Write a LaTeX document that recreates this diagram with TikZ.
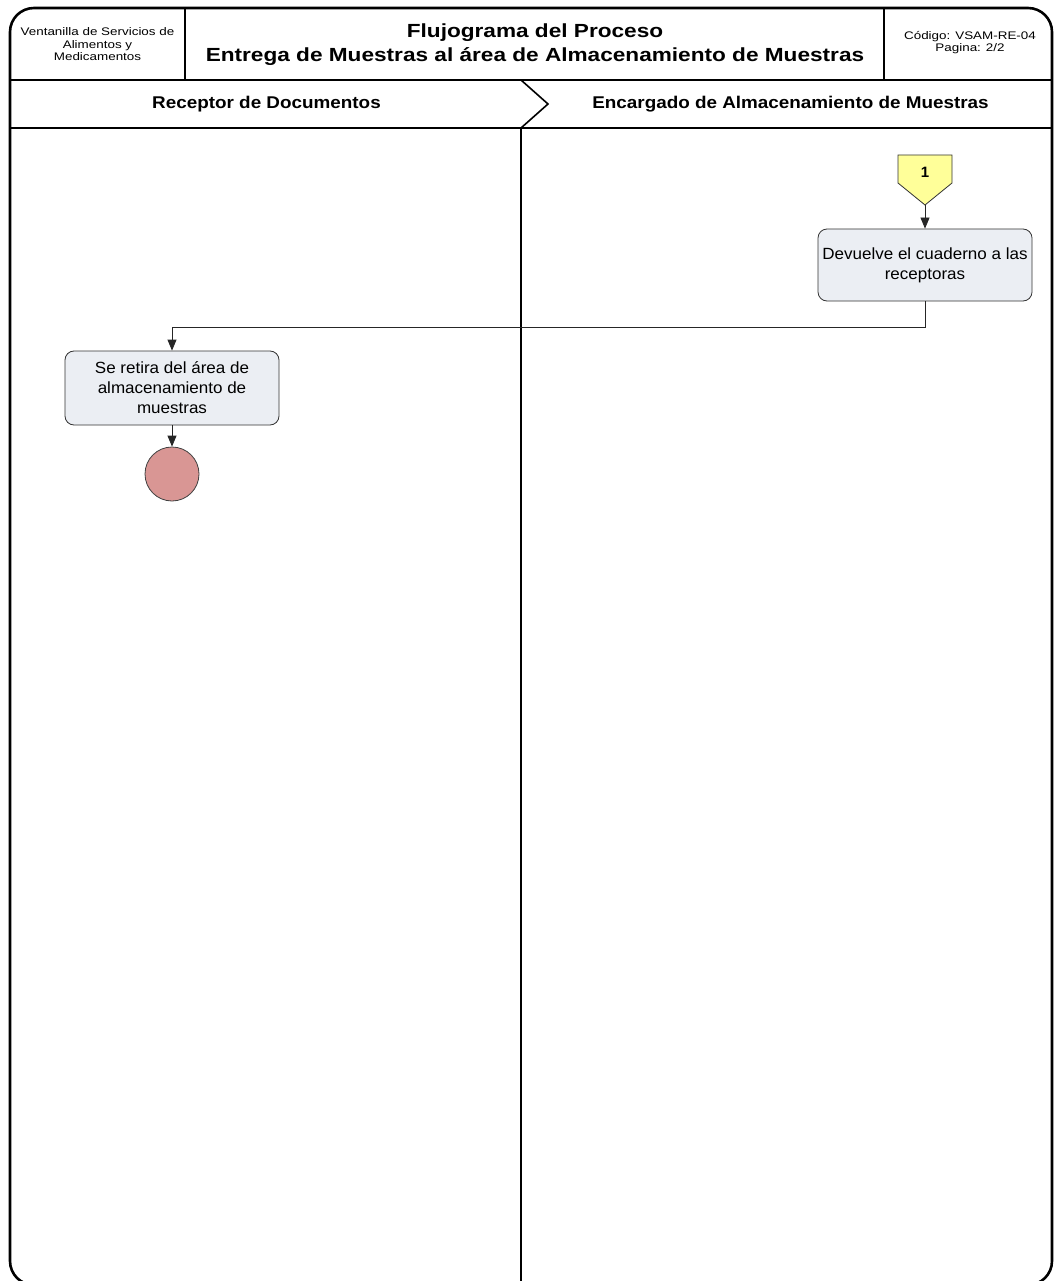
\documentclass[tikz,border=0pt]{standalone}
\usepackage{fontspec}
\setmainfont{Liberation Sans}
\newfontfamily\titlefont[FakeStretch=1.19]{Liberation Sans}
\newfontfamily\lanefont[FakeStretch=1.11]{Liberation Sans}
\newfontfamily\smallfont[FakeStretch=1.22]{Liberation Sans}
\newfontfamily\boxfont[FakeStretch=1.05]{Liberation Sans}
\usetikzlibrary{arrows.meta,shapes.geometric}

\tikzset{
  frameline/.style={line width=2.6pt, black},
  laneline/.style={line width=1.6pt, black},
  procbox/.style={draw=black!80, line width=0.8pt, fill={rgb,255:red,235;green,238;blue,243},
    rounded corners=9pt, minimum width=214pt, align=center, inner sep=2pt,
    font=\boxfont\fontsize{16.2}{20}\selectfont},
  flow/.style={draw=black!85, line width=0.8pt, -{Triangle[length=11pt,width=9pt]}},
  endcircle/.style={circle, draw=black!75, line width=0.8pt, fill={rgb,255:red,217;green,150;blue,148},
    minimum size=54pt, inner sep=0pt},
  smalltext/.style={align=center, font=\smallfont\fontsize{11}{12.5}\selectfont},
  lanetitle/.style={font=\lanefont\bfseries\fontsize{17}{20}\selectfont},
}

\begin{document}
\begin{tikzpicture}[x=1pt,y=-1pt]
  \clip (0,0) rectangle (1054,1281);
  \fill[white] (0,0) rectangle (1054,1281);

  % outer frame and header grid
  \draw[frameline, rounded corners=24pt] (10,8) rectangle (1052,1285);
  \draw[frameline] (10,80) -- (1052,80);
  \draw[frameline] (185,8) -- (185,80);
  \draw[frameline] (884,8) -- (884,80);
  \draw[laneline] (10,128) -- (1052,128);

  % lane separator with chevron
  \draw[laneline] (521,80) -- (548,104) -- (521,128) -- (521,1285);

  % header texts
  \node[smalltext] (org) at (97.5,44.5) {Ventanilla de Servicios de\\Alimentos y\\Medicamentos};
  \node[align=center, font=\titlefont\bfseries\fontsize{19}{24}\selectfont] (title) at (535,45)
    {Flujograma del Proceso\\Entrega de Muestras al área de Almacenamiento de Muestras};
  \node[align=center, font=\smallfont\fontsize{11}{11.5}\selectfont] (code) at (970,42.5)
    {Código: VSAM-RE-04\\Pagina: 2/2};

  % lane titles
  \node[lanetitle] (laneA) at (266.5,104) {Receptor de Documentos};
  \node[lanetitle] (laneB) at (790.5,104) {Encargado de Almacenamiento de Muestras};

  % off-page connector
  \draw[draw=black!80, line width=0.8pt, fill={rgb,255:red,255;green,255;blue,153}]
    (898,155) -- (952,155) -- (952,183) -- (925,205) -- (898,183) -- cycle;
  \coordinate (offtip) at (925,205);
  \node[font=\bfseries\fontsize{15}{18}\selectfont] (offlabel) at (925,172) {1};

  % process steps
  \node[procbox, minimum height=72pt] (devuelve) at (925,265)
    {Devuelve el cuaderno a las\\receptoras};
  \node[procbox, minimum height=74pt] (retira) at (172,388)
    {Se retira del área de\\almacenamiento de\\muestras};
  \node[endcircle] (fin) at (172,474) {};

  % connectors
  \draw[flow] (offtip) -- (devuelve.north);
  \draw[flow] (devuelve.south) -- ++(0,26) -| (retira.north);
  \draw[flow] (retira.south) -- (fin.north);
\end{tikzpicture}
\end{document}
